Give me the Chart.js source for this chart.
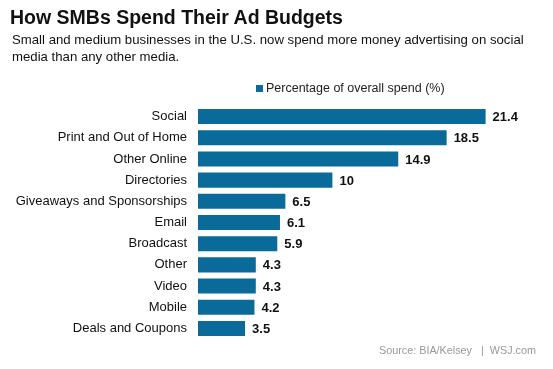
<!DOCTYPE html>
<html>
<head>
<meta charset="utf-8">
<script src="https://cdn.jsdelivr.net/npm/chart.js@4.4.0/dist/chart.umd.min.js"></script>
<style>
body{margin:0;background:#fff;font-family:"Liberation Sans",Arial,sans-serif;}
#wrap{position:relative;width:553px;height:369px;overflow:hidden;}
#title{position:absolute;left:10px;top:6px;font-size:19.5px;font-weight:bold;color:#111;white-space:nowrap;}
#sub{position:absolute;left:12px;top:31px;width:530px;font-size:13.2px;line-height:17px;color:#111;}
#legend{position:absolute;left:256px;top:81px;font-size:12.5px;color:#222;white-space:nowrap;}
#legend span{display:inline-block;width:7px;height:7px;background:#0a6b9b;margin-right:3px;vertical-align:0px;}
#source{position:absolute;left:379px;top:344px;font-size:10.8px;color:#999;white-space:nowrap;}
canvas{position:absolute;left:0;top:0;}
</style>
</head>
<body>
<div id="wrap">
<canvas id="myChart" width="553" height="369"></canvas>
<div id="title">How SMBs Spend Their Ad Budgets</div>
<div id="sub">Small and medium businesses in the U.S. now spend more money advertising on social media than any other media.</div>
<div id="legend"><span></span>Percentage of overall spend (%)</div>
<div id="source">Source: BIA/Kelsey &nbsp;&nbsp;| &nbsp;WSJ.com</div>
</div>
<script>
'use strict';
let categories=['Social','Print and Out of Home','Other Online','Directories','Giveaways and Sponsorships','Email','Broadcast','Other','Video','Mobile','Deals and Coupons'];
let spend=[21.4,18.5,14.9,10,6.5,6.1,5.9,4.3,4.3,4.2,3.5];
let seriesName='Percentage of overall spend (%)';

// values written after each bar
let valueLabels={
  id:'valueLabels',
  afterDatasetsDraw(chart){
    let ctx=chart.ctx;
    let meta=chart.getDatasetMeta(0);
    ctx.save();
    ctx.font='bold 13px "Liberation Sans", Arial, sans-serif';
    ctx.fillStyle='#111';
    ctx.textBaseline='middle';
    meta.data.forEach(function(bar,i){
      ctx.fillText(String(spend[i]),bar.x+7,bar.y+1);
    });
    ctx.restore();
  }
};

let ctx=document.getElementById('myChart').getContext('2d');
let myChart=new Chart(ctx,{
  type:'bar',
  data:{
    labels:categories,
    datasets:[{
      label:seriesName,
      data:spend,
      backgroundColor:'#0a6b9b',
      borderWidth:0,
      barPercentage:0.71,
      categoryPercentage:1
    }]
  },
  options:{
    indexAxis:'y',
    responsive:false,
    animation:false,
    layout:{padding:{top:106,bottom:30,right:19,left:0}},
    plugins:{legend:{display:false},tooltip:{enabled:false}},
    scales:{
      x:{display:false,min:0,max:25},
      y:{
        grid:{display:false,drawTicks:false},
        border:{display:false},
        ticks:{color:'#111',padding:11,font:{family:'"Liberation Sans", Arial, sans-serif',size:13}},
        afterFit:function(scale){scale.width=198;}
      }
    }
  },
  plugins:[valueLabels]
});
</script>
</body>
</html>
